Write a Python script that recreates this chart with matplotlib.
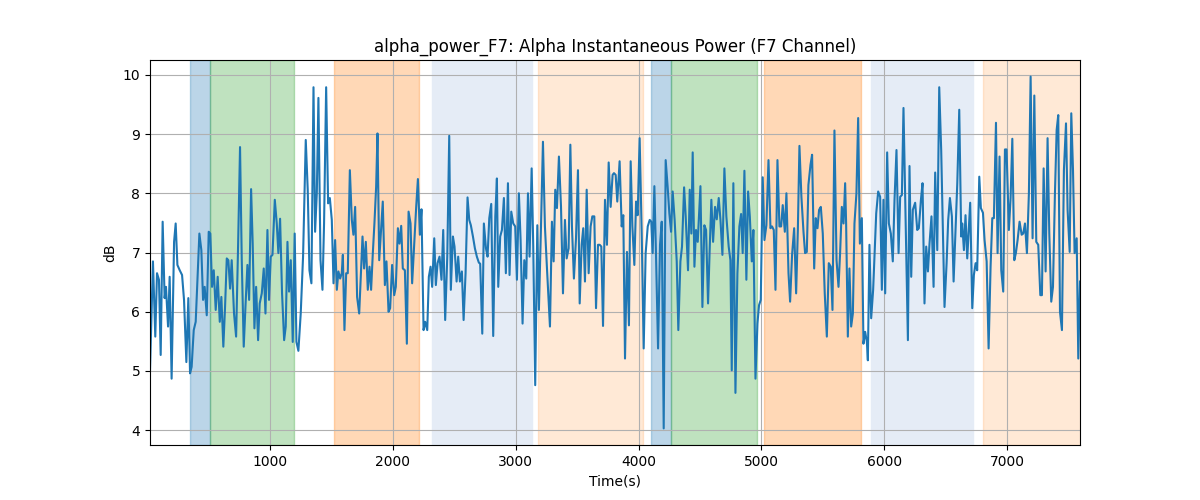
import matplotlib
matplotlib.use('Agg')
import matplotlib.pyplot as plt

# sample times (s) and alpha power (dB)
time_s = [
    22, 46, 65, 79, 95, 109, 125, 141, 152, 169, 182, 198, 218, 231, 245, 264,
    283, 299, 318, 334, 348, 361, 378, 394, 408, 424, 440, 454, 467, 484, 500,
    513, 527, 541, 557, 573, 590, 603, 619, 633, 647, 660, 674, 687, 706, 723,
    739, 755, 769, 785, 799, 815, 829, 845, 858, 872, 886, 902, 915, 932, 948, 962,
    978, 991, 1005, 1019, 1038, 1054, 1067, 1081, 1097, 1114, 1127, 1141, 1154,
    1168, 1184, 1200, 1214, 1230, 1249, 1268, 1290, 1306, 1320, 1336, 1353, 1366,
    1380, 1393, 1410, 1426, 1439, 1456, 1472, 1486, 1502, 1516, 1529, 1543, 1556,
    1570, 1583, 1592, 1605, 1619, 1632, 1649, 1665, 1678, 1692, 1708, 1725, 1741,
    1752, 1765, 1779, 1795, 1809, 1822, 1836, 1849, 1863, 1874, 1888,
    1917, 1934, 1947, 1964, 1977, 1993, 2010, 2023, 2040, 2053, 2067, 2080, 2097,
    2113, 2127, 2143, 2156, 2175, 2189, 2203, 2219, 2232, 2249, 2262, 2279, 2292,
    2306, 2319, 2336, 2349, 2363, 2379, 2395, 2409, 2425, 2442, 2458, 2471, 2488,
    2501, 2518, 2531, 2545, 2561, 2575, 2591, 2607, 2621, 2634, 2651, 2667, 2683,
    2699, 2710, 2727, 2740, 2757, 2770, 2784, 2800, 2816, 2833, 2846, 2857,
    2873, 2887, 2903, 2919, 2936, 2949, 2963, 2979, 2995, 3009, 3025, 3039, 3055,
    3069, 3085, 3099, 3112, 3129, 3142, 3158, 3175, 3188, 3205, 3221, 3237, 3253,
    3278, 3294, 3308, 3321, 3335, 3351, 3368, 3384, 3400, 3414, 3430, 3444, 3457,
    3473, 3490, 3506, 3520, 3536, 3549, 3563, 3577, 3593, 3609, 3623, 3639, 3653,
    3669, 3683, 3696, 3710, 3726, 3742, 3756, 3772, 3788,
    3799, 3813, 3826, 3845, 3862, 3875, 3889, 3905, 3921, 3935, 3949, 3965, 3979,
    3992, 4008, 4025, 4041, 4057, 4074, 4090, 4103, 4114, 4128, 4141, 4158, 4174,
    4188, 4204, 4220, 4236, 4250, 4264, 4277, 4293, 4310, 4323, 4340, 4353, 4370,
    4383, 4402, 4416, 4429, 4440, 4454, 4467, 4481, 4503, 4519, 4535, 4549, 4565,
    4579, 4592, 4606, 4622, 4636, 4652, 4666, 4682, 4698, 4714, 4733, 4747,
    4758, 4771, 4788, 4804, 4820, 4834, 4847, 4861, 4877, 4891, 4905, 4921, 4934,
    4951, 4967, 4980, 4994, 5010, 5024, 5040, 5057, 5073, 5086, 5100, 5114, 5130,
    5146, 5160, 5173, 5190, 5203, 5220, 5233, 5249, 5266, 5282, 5296, 5309, 5325,
    5342, 5355, 5369, 5382, 5399, 5412, 5429, 5442, 5456, 5469, 5483, 5499, 5515,
    5532, 5548, 5564, 5578, 5594, 5611, 5627, 5640, 5654, 5668, 5681,
    5689, 5703, 5716, 5730, 5744, 5757, 5773, 5787, 5801, 5817, 5830, 5844, 5858,
    5866, 5879, 5893, 5909, 5934, 5950, 5966, 5980, 5993, 6007, 6023, 6037, 6053,
    6069, 6083, 6099, 6116, 6129, 6143, 6156, 6173, 6192, 6205, 6219, 6232, 6251,
    6268, 6281, 6298, 6311, 6327, 6341, 6355, 6368, 6384, 6401, 6414, 6431, 6447,
    6463, 6490, 6507, 6520, 6534, 6550, 6564, 6583, 6594, 6610, 6626,
    6634, 6648, 6661, 6675, 6699, 6716, 6729, 6743, 6756, 6773, 6786, 6803, 6816,
    6833, 6849, 6865, 6879, 6892, 6909, 6922, 6938, 6952, 6968, 6982, 6995, 7014,
    7028, 7042, 7058, 7071, 7085, 7101, 7118, 7131, 7145, 7161, 7177, 7191, 7207,
    7221, 7237, 7253, 7270, 7283, 7297, 7313, 7329, 7343, 7359, 7373, 7389, 7403,
    7416, 7430, 7446, 7462, 7479, 7492, 7509, 7522, 7536, 7549, 7566, 7579, 7593,
]

alpha_db = [
    5.01, 6.85, 5.58, 6.65, 6.54, 5.27, 7.52, 6.23, 6.42, 5.75, 6.59, 4.87, 7.18,
    7.49, 6.79, 6.70, 6.62, 6.20, 5.15, 6.23, 4.96, 5.07, 5.69, 5.83, 6.54, 7.32,
    7.04, 6.20, 6.42, 5.94, 7.35, 7.32, 6.42, 6.70, 6.03, 6.59, 5.83, 6.25, 5.41,
    6.08, 6.90, 6.87, 6.39, 6.87, 5.97, 5.58, 7.10, 8.78, 6.87, 5.41, 6.08, 6.79,
    6.20, 8.07, 7.15, 5.72, 6.42, 5.52, 6.14, 6.31, 6.73, 5.97,
    7.38, 6.20, 6.93, 6.96, 7.89, 7.49, 6.99, 7.57, 6.31, 5.52, 5.75, 7.18, 6.34,
    6.87, 5.49, 7.32, 5.49, 5.34, 5.97, 6.93, 8.90, 8.06, 6.70, 6.48, 9.79, 7.35,
    8.00, 9.61, 6.87, 6.37, 7.49, 9.79, 7.83, 7.92, 7.55, 6.48, 7.21, 6.37, 6.68,
    6.56, 6.65, 6.96, 5.69, 6.65, 6.65, 8.39, 7.55, 7.30, 7.77, 6.25, 5.97, 6.76,
    7.27, 6.73, 7.18, 6.37, 6.76, 6.37, 6.99, 7.49, 8.11, 9.01, 6.87,
    7.86, 6.45, 6.85, 6.00, 6.06, 6.79, 6.28, 6.42, 7.41, 7.15, 7.45, 6.73, 6.70,
    5.46, 7.69, 7.49, 6.48, 7.21, 7.77, 8.24, 7.30, 7.73, 5.69, 5.83, 5.69, 6.59,
    6.76, 6.42, 7.24, 6.45, 6.82, 6.93, 6.54, 7.38, 5.86, 6.93, 8.97, 6.37, 7.27,
    7.10, 6.51, 6.93, 6.51, 6.68, 5.86, 6.65, 7.93, 7.55, 7.46, 7.27, 7.07, 6.93,
    6.83, 6.81, 5.63, 7.49, 7.07, 6.93, 7.58, 7.82, 5.59, 7.61, 8.25, 6.42,
    7.27, 7.38, 7.92, 6.65, 8.17, 6.62, 7.69, 7.49, 7.44, 6.54, 8.00, 7.21, 5.80,
    6.87, 6.56, 8.00, 6.93, 8.42, 7.10, 4.76, 7.46, 6.03, 7.44, 8.87, 7.44, 6.76,
    5.75, 7.52, 6.85, 8.06, 7.75, 8.62, 7.77, 6.31, 7.55, 6.90, 7.07, 8.82, 7.44,
    6.56, 7.24, 8.39, 6.14, 7.13, 7.41, 6.51, 8.06, 6.65, 7.44, 7.61, 7.61, 6.06,
    7.13, 7.13, 7.10, 5.76, 7.89, 7.13, 8.52, 7.77, 8.31,
    8.34, 8.31, 7.86, 8.54, 7.44, 7.63, 5.21, 7.01, 5.77, 8.54, 7.44, 6.79, 7.86,
    7.63, 8.93, 7.32, 5.38, 6.99, 7.44, 7.55, 7.52, 6.99, 8.12, 6.99, 5.38, 7.13,
    7.52, 4.03, 8.56, 8.11, 7.66, 7.35, 8.03, 7.55, 6.85, 5.69, 6.85, 7.10, 8.10,
    7.61, 6.70, 8.06, 7.32, 8.69, 6.76, 7.38, 7.18, 8.12, 6.08, 7.46, 7.38, 6.14,
    7.10, 7.89, 7.18, 7.77, 7.56, 7.92, 7.55, 6.96, 8.42, 7.61, 7.10, 6.87,
    5.01, 8.17, 4.63, 6.65, 7.44, 7.65, 6.99, 8.38, 6.54, 8.03, 7.61, 6.85, 7.38,
    4.87, 5.80, 6.11, 6.20, 8.27, 7.21, 7.46, 8.56, 7.41, 7.44, 7.38, 6.37, 8.56,
    7.44, 7.44, 7.80, 7.35, 8.00, 6.65, 6.17, 6.96, 7.41, 6.31, 7.38, 8.80, 7.94,
    7.35, 6.99, 7.01, 8.14, 8.48, 8.65, 6.73, 7.58, 7.41, 7.72, 7.77, 7.32, 6.31,
    5.58, 6.82, 6.76, 6.03, 9.06, 6.87, 6.42, 6.99, 7.77, 7.49, 8.17,
    7.49, 5.58, 6.73, 5.75, 5.97, 7.49, 8.00, 9.27, 7.15, 7.58, 5.46, 5.66, 5.49,
    5.18, 7.13, 5.89, 6.37, 7.66, 8.03, 7.94, 6.37, 7.89, 6.31, 8.69, 7.49, 7.32,
    6.85, 7.89, 8.73, 6.99, 7.94, 7.97, 9.44, 7.55, 5.52, 8.46, 6.59, 7.72, 7.84,
    7.38, 7.41, 7.89, 8.17, 6.14, 7.10, 6.68, 7.15, 7.61, 6.42, 8.35, 7.04, 9.79,
    8.73, 6.08, 6.82, 7.55, 7.92, 7.61, 6.51, 7.55, 8.17, 9.41, 7.27,
    7.49, 7.04, 7.63, 6.90, 7.84, 6.06, 6.62, 6.82, 6.70, 8.28, 7.75, 7.67, 7.21,
    6.85, 5.38, 6.76, 7.58, 7.58, 9.19, 6.99, 8.62, 6.70, 6.34, 8.74, 8.74, 7.38,
    7.92, 8.92, 6.87, 6.99, 7.21, 7.52, 7.30, 7.32, 7.49, 6.99, 8.00, 9.97, 7.24,
    9.65, 7.18, 7.13, 6.28, 6.28, 8.42, 6.68, 8.93, 7.32, 6.17, 6.42, 8.00, 9.07,
    9.32, 6.00, 5.69, 8.39, 9.18, 7.72, 7.01, 9.35, 8.39, 6.99, 7.24, 5.21, 6.51,
]

# shaded segments (start s, end s, segment kind)
seg_start = [348, 508, 1521, 2319, 3180, 4098, 4261, 5021, 5893, 6805]
seg_end = [508, 1195, 2213, 3131, 4036, 4261, 4964, 5811, 6724, 7700]
seg_kind = ['a', 'b', 'c', 'd', 'e', 'a', 'b', 'c', 'd', 'e']

kind_style = {
    'a': ('tab:blue', 0.3),
    'b': ('tab:green', 0.3),
    'c': ('tab:orange', 0.3),
    'd': ('#e5ecf6', 1.0),
    'e': ('tab:orange', 0.17),
}

fig, ax = plt.subplots(figsize=(12, 5), dpi=100)
for s, e, k in zip(seg_start, seg_end, seg_kind):
    c, a = kind_style[k]
    ax.axvspan(s, e, color=c, alpha=a, zorder=0)
ax.plot(time_s, alpha_db, color='tab:blue')
ax.set_xlim(time_s[0], time_s[-1])
ax.set_ylim(3.75, 10.25)
ax.grid(True)
ax.set_title('alpha_power_F7: Alpha Instantaneous Power (F7 Channel)')
ax.set_xlabel('Time(s)')
ax.set_ylabel('dB')
fig.savefig('out.png')
